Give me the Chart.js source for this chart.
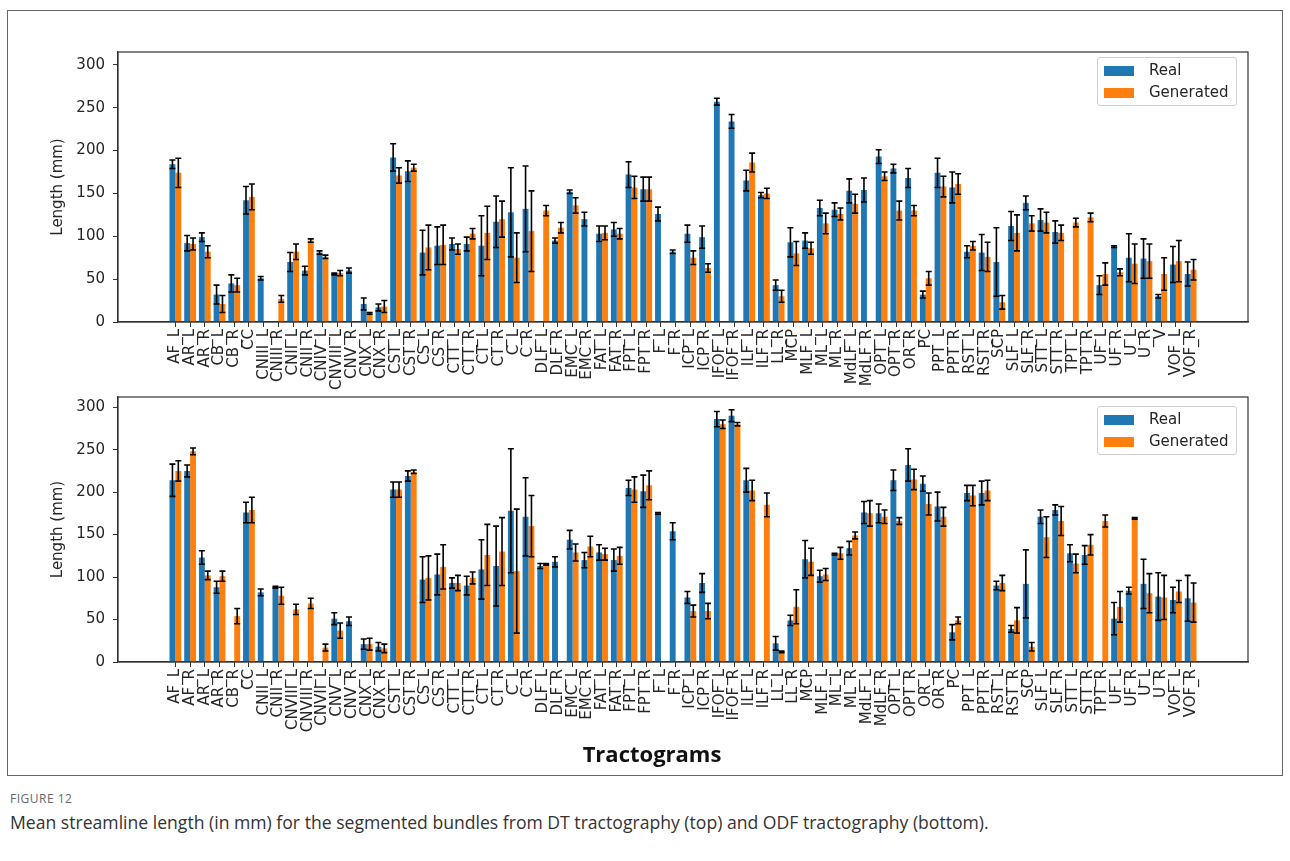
<!DOCTYPE html>
<html>
<head>
<meta charset="utf-8">
<script src="https://cdn.jsdelivr.net/npm/chart.js@4.4.0/dist/chart.umd.min.js"></script>
<style>
  body { margin: 0; background: #fff; width: 1290px; height: 861px; position: relative; overflow: hidden; }
  canvas { position: absolute; left: 0; }
  #frame { position: absolute; left: 7px; top: 10px; width: 1274px; height: 764px; border: 1px solid #666; }
  .legend { position: absolute; left: 1097px; width: 138px; height: 47px; border: 1px solid #d0d0d0; border-radius: 3px; background: rgba(255,255,255,0.85);
            font: 15px "DejaVu Sans", sans-serif; color: #262626; }
  .legend div { position: absolute; left: 6px; height: 23px; line-height: 23px; }
  .legend span { display: inline-block; width: 30px; height: 10px; margin-right: 15px; vertical-align: -1px; }
  #xtitle { position: absolute; left: 0; width: 1304px; top: 738px; text-align: center; font: 700 22px "Open Sans", sans-serif; color: #111; }
  #fig { position: absolute; left: 10px; top: 790px; font: 12px "Open Sans", sans-serif; letter-spacing: 0.5px; color: #666; }
  #cap { position: absolute; left: 10px; top: 810px; font: 17.6px "Open Sans", sans-serif; color: #333; }
</style>
</head>
<body>
<div id="frame"></div>
<canvas id="topChart" width="1290" height="400" style="top:0"></canvas>
<canvas id="bottomChart" width="1290" height="370" style="top:380px"></canvas>

<div class="legend" style="top:57px">
  <div style="top:1px"><span style="background:#1f77b4"></span>Real</div>
  <div style="top:23px"><span style="background:#ff7f0e"></span>Generated</div>
</div>
<div class="legend" style="top:406px">
  <div style="top:1px"><span style="background:#1f77b4"></span>Real</div>
  <div style="top:23px"><span style="background:#ff7f0e"></span>Generated</div>
</div>
<div id="xtitle">Tractograms</div>
<div id="fig">FIGURE 12</div>
<div id="cap">Mean streamline length (in mm) for the segmented bundles from DT tractography (top) and ODF tractography (bottom).</div>

<script>
// DT tractography (top)
const topCategories = ['AF_L','AR_L','AR_R','CB_L','CB_R','CC','CNIII_L','CNIII_R','CNII_L','CNII_R',
  'CNIV_L','CNVIII_L','CNV_R','CNX_L','CNX_R','CST_L','CST_R','CS_L','CS_R','CTT_L',
  'CTT_R','CT_L','CT_R','C_L','C_R','DLF_L','DLF_R','EMC_L','EMC_R','FAT_L',
  'FAT_R','FPT_L','FPT_R','F_L','F_R','ICP_L','ICP_R','IFOF_L','IFOF_R','ILF_L',
  'ILF_R','LL_R','MCP','MLF_L','ML_L','ML_R','MdLF_L','MdLF_R','OPT_L','OPT_R',
  'OR_R','PC','PPT_L','PPT_R','RST_L','RST_R','SCP','SLF_L','SLF_R','STT_L',
  'STT_R','TPT_L','TPT_R','UF_L','UF_R','U_L','U_R','V','VOF_L','VOF_R'];
const topReal = [184,92,99,32,45,142,51,null,70,60,
  81,56,60,21,17,192,176,81,89,91,
  91,89,117,128,132,null,95,152,120,103,
  108,172,155,126,82,103,99,257,234,165,
  148,43,93,95,133,131,153,154,193,179,
  168,32,174,157,82,81,70,112,139,119,
  105,null,null,43,88,75,74,30,67,56];
const topRealErr = [5,9,5,11,10,16,2,null,11,5,
  2,1,3,7,4,16,12,26,22,7,
  8,35,30,52,50,null,3,2,8,9,
  8,15,14,8,2,10,13,4,8,12,
  3,6,17,9,9,8,14,14,8,5,
  11,4,17,18,7,21,40,17,8,13,
  13,null,null,11,1,28,23,2,21,14];
const topGen = [174,91,82,21,43,146,null,27,82,95,
  76,57,null,10,18,171,180,87,90,85,
  103,104,120,75,106,130,110,136,null,104,
  103,157,155,null,null,75,63,null,null,186,
  150,30,80,86,115,126,138,null,170,130,
  130,51,158,161,89,76,23,104,115,116,
  104,116,122,56,58,68,71,56,71,61];
const topGenErr = [17,7,7,10,8,15,null,4,9,2,
  2,3,null,1,7,9,4,26,23,6,
  6,31,21,29,47,6,6,9,null,8,
  6,13,14,null,null,8,5,null,null,11,
  6,7,14,7,12,7,11,null,5,11,
  6,8,12,12,5,17,8,21,9,12,
  9,5,5,13,4,23,20,19,24,12];

// ODF tractography (bottom)
const bottomCategories = ['AF_L','AF_R','AR_L','AR_R','CB_R','CC','CNII_L','CNII_R','CNVIII_L','CNVIII_R',
  'CNVII_L','CNV_L','CNV_R','CNX_L','CNX_R','CST_L','CST_R','CS_L','CS_R','CTT_L',
  'CTT_R','CT_L','CT_R','C_L','C_R','DLF_L','DLF_R','EMC_L','EMC_R','FAT_L',
  'FAT_R','FPT_L','FPT_R','F_L','F_R','ICP_L','ICP_R','IFOF_L','IFOF_R','ILF_L',
  'ILF_R','LL_L','LL_R','MCP','MLF_L','ML_L','ML_R','MdLF_L','MdLF_R','OPT_L',
  'OPT_R','OR_L','OR_R','PC','PPT_L','PPT_R','RST_L','RST_R','SCP','SLF_L',
  'SLF_R','STT_L','STT_R','TPT_R','UF_L','UF_R','U_L','U_R','VOF_L','VOF_R'];
const bottomReal = [214,225,123,88,null,176,82,88,null,null,
  null,51,48,21,18,203,219,97,103,93,
  90,109,113,178,171,113,118,144,120,129,
  120,205,201,175,154,76,93,286,290,214,
  null,22,49,121,101,127,134,176,175,214,
  232,210,183,35,199,199,90,39,92,171,
  179,128,126,null,51,84,92,77,73,75];
const bottomRealErr = [19,7,8,7,null,12,4,1,null,null,
  null,7,5,6,5,9,6,27,24,6,
  11,35,47,73,46,3,6,11,9,9,
  13,9,19,1,10,7,11,9,7,14,
  null,8,6,22,7,1,8,13,11,12,
  19,9,17,9,9,14,5,4,40,8,
  6,10,11,null,19,4,29,28,15,27];
const bottomGen = [225,248,102,101,54,179,null,78,62,69,
  17,37,null,21,16,203,224,99,112,93,
  99,126,130,107,160,115,null,129,136,127,
  125,203,208,null,null,60,60,280,280,202,
  185,12,65,118,103,128,149,175,171,166,
  215,186,171,49,196,202,93,49,18,147,
  166,116,138,166,65,169,81,76,83,70];
const bottomGenErr = [12,4,5,6,9,15,null,10,6,6,
  4,9,null,7,5,9,2,26,26,9,
  7,36,40,73,36,1,null,10,12,7,
  10,15,17,null,null,7,9,5,2,12,
  14,1,20,16,7,7,4,15,8,4,
  12,13,11,4,12,12,9,15,5,24,
  17,11,12,7,18,1,23,26,13,23];

const BLUE = '#1f77b4';
const ORANGE = '#ff7f0e';
const TEXT = '#262626';
const AXIS = '#333';
const tickFont = { family: 'DejaVu Sans', size: 15 };

// black error bars with caps, drawn from each bar's position
const errorBars = {
  id: 'errorBars',
  afterDatasetsDraw(chart) {
    const { ctx } = chart;
    const y = chart.scales.y;
    ctx.save();
    ctx.strokeStyle = '#000';
    ctx.lineWidth = 1.6;
    chart.data.datasets.forEach((ds, di) => {
      const meta = chart.getDatasetMeta(di);
      ds.data.forEach((pt, i) => {
        const err = ds.errors[i];
        if (pt.y == null || err == null) return;
        const x = meta.data[i].x;
        const y1 = y.getPixelForValue(pt.y + err);
        const y2 = y.getPixelForValue(pt.y - err);
        ctx.beginPath();
        ctx.moveTo(x, y1); ctx.lineTo(x, y2);
        ctx.moveTo(x - 3, y1); ctx.lineTo(x + 3, y1);
        ctx.moveTo(x - 3, y2); ctx.lineTo(x + 3, y2);
        ctx.stroke();
      });
    });
    ctx.restore();
  }
};

// box round the plot area, like matplotlib spines
const frameBox = {
  id: 'frameBox',
  afterDraw(chart) {
    const { ctx, chartArea: a } = chart;
    ctx.save();
    ctx.strokeStyle = AXIS;
    ctx.lineWidth = 1.2;
    ctx.strokeRect(a.left, a.top, a.right - a.left, a.bottom - a.top);
    ctx.restore();
  }
};

function makeChart(id, cats, real, realErr, gen, genErr, yMax, padTop, xHeight) {
  const toPts = arr => cats.map((c, i) => ({ x: i, y: arr[i] }));
  return new Chart(document.getElementById(id), {
    type: 'bar',
    data: {
      datasets: [
        { label: 'Real', data: toPts(real), errors: realErr, backgroundColor: BLUE, borderWidth: 0 },
        { label: 'Generated', data: toPts(gen), errors: genErr, backgroundColor: ORANGE, borderWidth: 0 }
      ]
    },
    options: {
      responsive: false,
      animation: false,
      devicePixelRatio: 1,
      categoryPercentage: 0.8,
      barPercentage: 1.0,
      layout: { padding: { top: padTop, right: 42, left: 0, bottom: 0 } },
      plugins: { legend: { display: false }, tooltip: { enabled: false } },
      scales: {
        x: {
          type: 'linear',
          min: -3.9,
          max: cats.length - 1 + 3.9,
          offset: false,
          afterBuildTicks: axis => { axis.ticks = cats.map((c, i) => ({ value: i })); },
          afterFit: s => { s.height = xHeight; },
          ticks: {
            autoSkip: false, minRotation: 90, maxRotation: 90, padding: 2,
            font: tickFont, color: TEXT,
            callback: v => cats[v]
          },
          grid: { display: true, offset: false, drawOnChartArea: false, drawTicks: true, tickLength: 5, color: AXIS },
          border: { display: true, color: AXIS, width: 1.2 }
        },
        y: {
          min: 0,
          max: yMax,
          afterFit: s => { s.width = 118; },
          ticks: { stepSize: 50, includeBounds: false, padding: 8, font: tickFont, color: TEXT },
          grid: { display: true, drawOnChartArea: false, drawTicks: true, tickLength: 5, color: AXIS },
          border: { display: true, color: AXIS, width: 1.2 },
          title: { display: true, text: 'Length (mm)', font: tickFont, color: TEXT, padding: { top: 49, bottom: 0 } }
        }
      }
    },
    plugins: [errorBars, frameBox]
  });
}

makeChart('topChart', topCategories, topReal, topRealErr, topGen, topGenErr, 315, 52, 78);
makeChart('bottomChart', bottomCategories, bottomReal, bottomRealErr, bottomGen, bottomGenErr, 312, 15, 88);
</script>
</body>
</html>
